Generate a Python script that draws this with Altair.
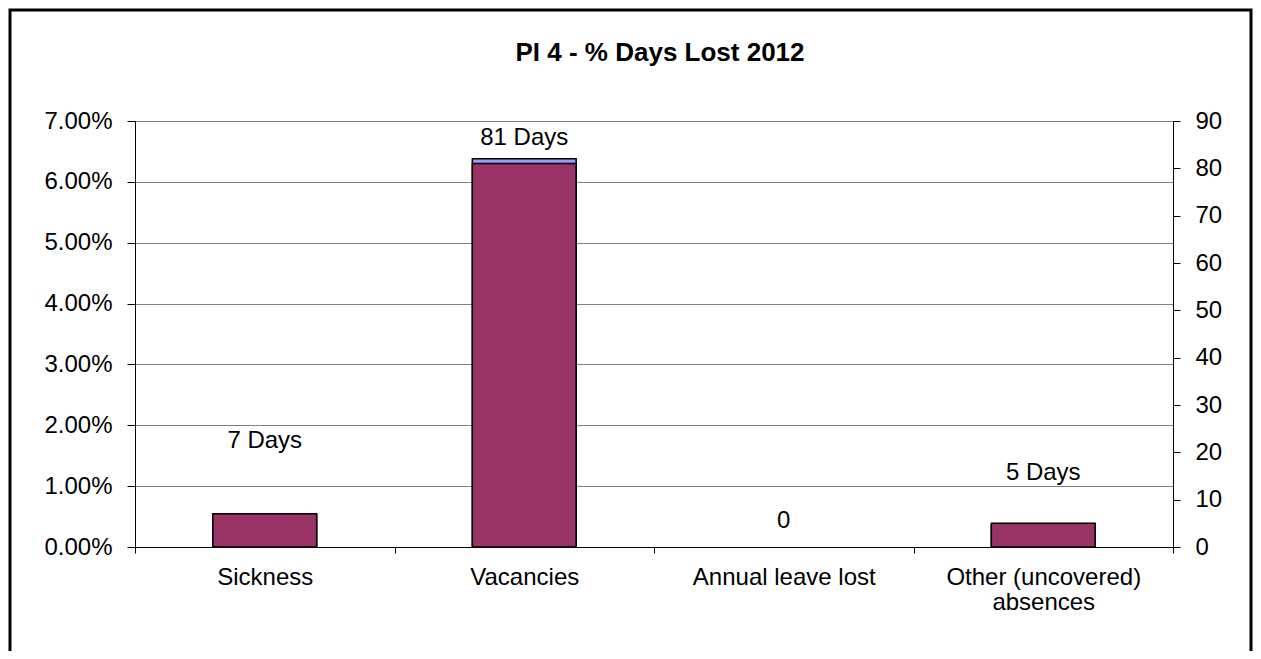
import altair as alt
import pandas as pd

categories = ["Sickness", "Vacancies", "Annual leave lost", "Other (uncovered) absences"]
days_lost = [7, 81, 0, 5]
pct_lost = [0.0052, 0.0638, 0.0, 0.0036]
label_text = ["7 Days", "81 Days", "0", "5 Days"]
label_pos = [0.0175, 0.0672, 0.0043, 0.0122]
pct_ticks = [0, 0.01, 0.02, 0.03, 0.04, 0.05, 0.06, 0.07]
day_ticks = [0, 10, 20, 30, 40, 50, 60, 70, 80, 90]

df = pd.DataFrame({
    "cat": categories,
    "days": days_lost,
    "pct": pct_lost,
    "label": label_text,
    "lpos": label_pos,
})

FONT = "Liberation Sans"
FS = 24
W, H = 1038, 426
PAD_L, PAD_T = 127, 113

xenc = alt.X(
    "cat:N",
    sort=categories,
    title=None,
    scale=alt.Scale(domain=categories, paddingInner=0, paddingOuter=0),
    axis=alt.Axis(
        labelAngle=0,
        labelFont=FONT,
        labelFontSize=FS,
        labelColor="black",
        labelPadding=12,
        labelLineHeight=25,
        labelBaseline="top",
        labelLimit=0,
        labelExpr="datum.value == 'Other (uncovered) absences' ? ['Other (uncovered)', 'absences'] : datum.label",
        tickBand="extent",
        tickSize=6,
        tickColor="black",
        domainColor="black",
        domainWidth=1,
        grid=False,
    ),
)

base = alt.Chart(df)

blue = base.transform_filter("datum.pct > 0").mark_bar(
    color="#9999FF", stroke="black", strokeWidth=1.5, width=alt.RelativeBandSize(0.4)
).encode(
    x=xenc,
    y=alt.Y(
        "pct:Q",
        title=None,
        scale=alt.Scale(domain=[0, 0.07], nice=False),
        axis=alt.Axis(
            orient="left",
            format=".2%",
            values=pct_ticks,
            labelFont=FONT,
            labelFontSize=FS,
            labelColor="black",
            labelPadding=15,
            tickSize=8,
            tickColor="black",
            domainColor="black",
            grid=True,
            gridColor="#808080",
            gridWidth=1,
        ),
    ),
)

maroon = base.transform_filter("datum.days > 0").mark_bar(
    color="#993366", stroke="black", strokeWidth=1.5, width=alt.RelativeBandSize(0.4)
).encode(
    x=xenc,
    y=alt.Y(
        "days:Q",
        title=None,
        scale=alt.Scale(domain=[0, 90], nice=False),
        axis=alt.Axis(
            orient="right",
            values=day_ticks,
            labelFont=FONT,
            labelFontSize=FS,
            labelColor="black",
            labelPadding=15,
            tickSize=7,
            tickColor="black",
            domainColor="black",
            grid=False,
        ),
    ),
)

labels = base.mark_text(
    font=FONT, fontSize=FS, color="black", baseline="middle", align="center"
).encode(
    x=xenc,
    y=alt.Y("lpos:Q", scale=alt.Scale(domain=[0, 0.07], nice=False), axis=None),
    text="label:N",
)

frame = alt.Chart(pd.DataFrame({"f": [0]})).mark_rect(
    fill=None, stroke="black", strokeWidth=3
).encode(
    x=alt.value(-(PAD_L - 2)),
    x2=alt.value(W + 78),
    y=alt.value(-(PAD_T - 2)),
    y2=alt.value(H + 200),
)

chart = (
    alt.layer(blue, maroon, labels, frame)
    .resolve_scale(y="independent")
    .properties(
        width=W,
        height=H,
        title=alt.TitleParams(
            "PI 4 - % Days Lost 2012",
            font=FONT,
            fontSize=26,
            fontWeight="bold",
            color="black",
            anchor="middle",
            offset=-57,
            dx=6,
        ),
        autosize=alt.AutoSizeParams(type="none"),
        padding={"left": PAD_L, "top": PAD_T, "right": 80, "bottom": 104},
    )
    .configure_view(stroke=None)
    .configure(background="white")
)

chart.save("out.html", embed_options={"renderer": "svg", "actions": False})
